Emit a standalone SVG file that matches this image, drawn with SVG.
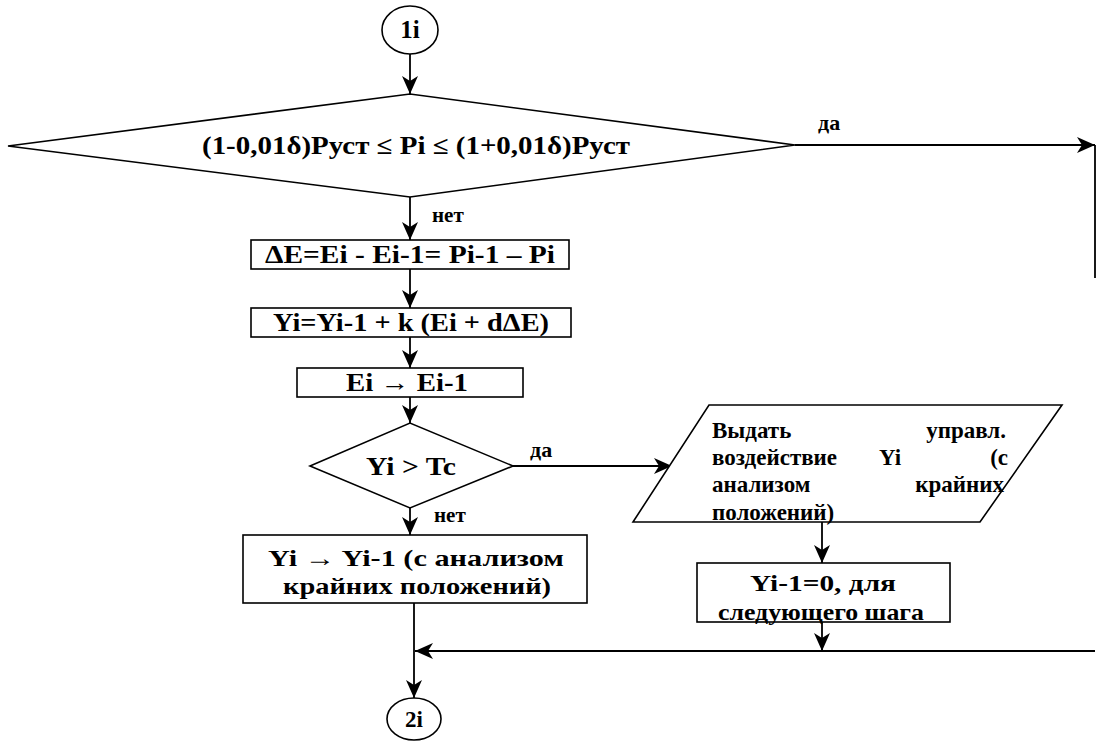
<svg xmlns="http://www.w3.org/2000/svg" width="1106" height="742" viewBox="0 0 1106 742">
<defs>
<marker id="ah" markerUnits="userSpaceOnUse" markerWidth="19" markerHeight="16" refX="18" refY="8" orient="auto">
<path d="M0,0 L18,8 L0,16 L5,8 z" fill="#000"/>
</marker>
<style>
.s{fill:#fff;stroke:#000;stroke-width:1.6}
.c{fill:none;stroke:#000;stroke-width:1.8}
.t{font-family:"Liberation Serif","Times New Roman",serif;font-weight:bold;fill:#000}
.m{text-anchor:middle}
</style>
</defs>
<rect width="1106" height="742" fill="#fff"/>
<g id="connectors">
<line class="c" x1="410" y1="54" x2="410" y2="94" marker-end="url(#ah)"/>
<line class="c" x1="795" y1="145" x2="1095" y2="145" marker-end="url(#ah)"/>
<line class="c" x1="1095" y1="145" x2="1095" y2="278"/>
<line class="c" x1="410" y1="197" x2="410" y2="240" marker-end="url(#ah)"/>
<line class="c" x1="410" y1="269" x2="410" y2="308" marker-end="url(#ah)"/>
<line class="c" x1="410" y1="337" x2="410" y2="368" marker-end="url(#ah)"/>
<line class="c" x1="410" y1="397" x2="410" y2="423" marker-end="url(#ah)"/>
<line class="c" x1="513" y1="466" x2="672" y2="466" marker-end="url(#ah)"/>
<line class="c" x1="410" y1="508" x2="410" y2="535" marker-end="url(#ah)"/>
<line class="c" x1="822" y1="522" x2="822" y2="563" marker-end="url(#ah)"/>
<line class="c" x1="822" y1="622" x2="822" y2="651" marker-end="url(#ah)"/>
<line class="c" x1="1095" y1="651" x2="415" y2="651" marker-end="url(#ah)"/>
<line class="c" x1="414" y1="603" x2="414" y2="698" marker-end="url(#ah)"/>
<text class="t" x="818" y="130" font-size="22">да</text>
<text class="t" x="432" y="222" font-size="21">нет</text>
<text class="t" x="530" y="457" font-size="22">да</text>
<text class="t" x="434" y="522" font-size="21">нет</text>
</g>
<g id="start">
<ellipse class="s" cx="410" cy="30" rx="28" ry="24"/>
<text class="t m" x="410" y="38" font-size="25">1i</text>
</g>
<g id="cond1">
<polygon class="s" points="8,146 410,94 795,145 410,197"/>
<text class="t m" x="416" y="154" font-size="25" textLength="428" lengthAdjust="spacingAndGlyphs">(1-0,01δ)Pуст ≤ Pi ≤ (1+0,01δ)Pуст</text>
</g>
<g id="calcDE">
<rect class="s" x="251" y="240" width="318" height="29"/>
<text class="t m" x="410" y="263" font-size="25" textLength="290" lengthAdjust="spacingAndGlyphs">ΔE=Ei - Ei-1= Pi-1 – Pi</text>
</g>
<g id="calcY">
<rect class="s" x="251" y="308" width="320" height="29"/>
<text class="t m" x="411" y="331" font-size="25" textLength="276" lengthAdjust="spacingAndGlyphs">Yi=Yi-1 + k (Ei + dΔE)</text>
</g>
<g id="shiftE">
<rect class="s" x="297" y="368" width="226" height="29"/>
<text class="t m" x="407" y="391" font-size="25" textLength="122" lengthAdjust="spacingAndGlyphs">Ei → Ei-1</text>
</g>
<g id="cond2">
<polygon class="s" points="310,466 410,423 513,466 410,508"/>
<text class="t m" x="411" y="475" font-size="25" textLength="90" lengthAdjust="spacingAndGlyphs">Yi &gt; Tc</text>
</g>
<g id="shiftY">
<rect class="s" x="243" y="535" width="344" height="68"/>
<text class="t m" x="416" y="566" font-size="24" textLength="296" lengthAdjust="spacingAndGlyphs">Yi → Yi-1 (с анализом</text>
<text class="t m" x="417" y="594" font-size="24" textLength="268" lengthAdjust="spacingAndGlyphs">крайних положений)</text>
</g>
<g id="output">
<polygon class="s" points="709,405 1062,405 980,522 633,522"/>
<text class="t" x="712" y="438" font-size="23">Выдать</text>
<text class="t" x="1006" y="438" font-size="23" text-anchor="end">управл.</text>
<text class="t" x="712" y="465" font-size="23">воздействие</text>
<text class="t" x="890" y="465" font-size="23" text-anchor="middle">Yi</text>
<text class="t" x="1008" y="465" font-size="23" text-anchor="end">(с</text>
<text class="t" x="712" y="492" font-size="23">анализом</text>
<text class="t" x="1004" y="492" font-size="23" text-anchor="end">крайних</text>
<text class="t" x="712" y="520" font-size="23">положений)</text>
</g>
<g id="reset">
<rect class="s" x="697" y="563" width="253" height="59"/>
<text class="t m" x="823" y="591" font-size="23" textLength="146" lengthAdjust="spacingAndGlyphs">Yi-1=0, для</text>
<text class="t m" x="821" y="620" font-size="23" textLength="206" lengthAdjust="spacingAndGlyphs">следующего шага</text>
</g>
<g id="end">
<ellipse class="s" cx="414" cy="719" rx="27" ry="21"/>
<text class="t m" x="414" y="727" font-size="23">2i</text>
</g>
</svg>
